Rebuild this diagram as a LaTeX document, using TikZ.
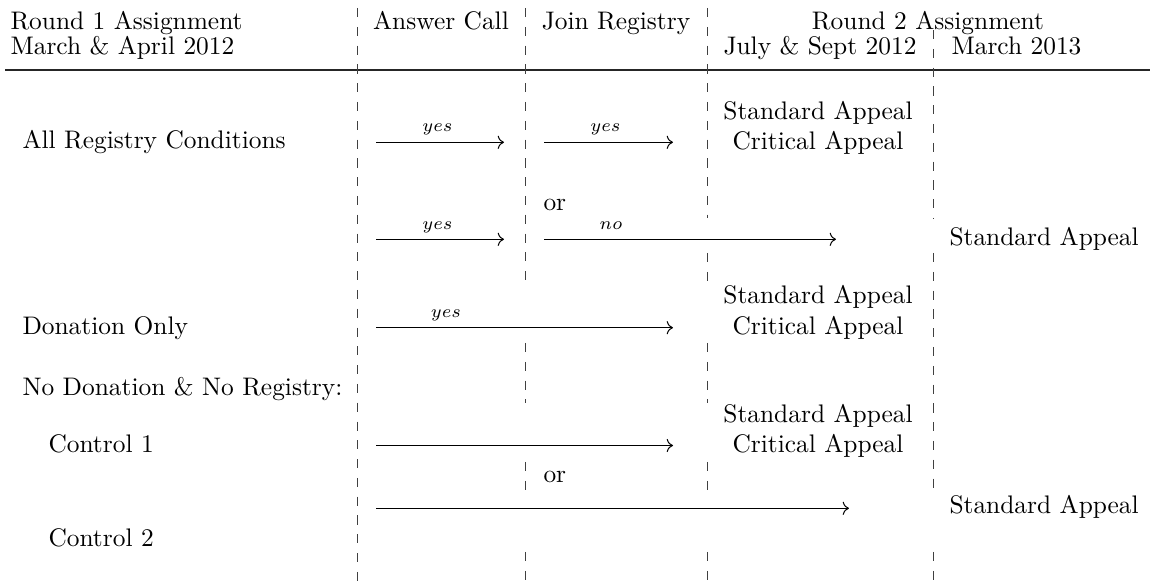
\documentclass[tikz,border=0pt]{standalone}
\usetikzlibrary{arrows.meta}
\begin{document}
\begin{tikzpicture}[x=0.3937pt,y=-0.3937pt,
  txt/.style={inner sep=0pt,anchor=base},
  txtl/.style={inner sep=0pt,anchor=base west},
  lbl/.style={inner sep=0pt,anchor=base,font=\scriptsize},
  vrule/.style={line width=0.35pt,black!75,dash pattern=on 3.6pt off 3.8pt},
  hrule/.style={line width=0.5pt,black!85},
  flow/.style={line width=0.4pt,-{Computer Modern Rightarrow}}]
\useasboundingbox (0,0) rectangle (1150,583);

% ---- header ----
\node[txtl] (h1) at (10,29.5) {Round 1 Assignment};
\node[txtl] (h1b) at (10,55) {March \& April 2012};
\node[txt] (h2) at (441,29.5) {Answer Call};
\node[txt] (h3) at (616,29.5) {Join Registry};
\node[txt] (h4) at (928,29.5) {Round 2 Assignment};
\node[txt] (h4a) at (820,55) {July \& Sept 2012};
\node[txtl] (h4b) at (951,55) {March 2013};
\draw[hrule] (5,70) -- (1150,70);

% ---- column separators ----
\draw[vrule] (357,8) -- (357,583);
\draw[vrule] (525,8) -- (525,283);
\draw[vrule] (525,343) -- (525,403);
\draw[vrule] (525,462) -- (525,497);
\draw[vrule] (525,552) -- (525,583);
\draw[vrule] (707,8) -- (707,218);
\draw[vrule] (707,253) -- (707,285);
\draw[vrule] (707,343) -- (707,403);
\draw[vrule] (707,462) -- (707,497);
\draw[vrule] (707,552) -- (707,583);
\draw[vrule] (933,30) -- (933,218);
\draw[vrule] (933,253) -- (933,490);
\draw[vrule] (933,552) -- (933,583);

% ---- row labels ----
\node[txtl] (all) at (22,149) {All Registry Conditions};
\node[txtl] (don) at (22,335) {Donation Only};
\node[txtl] (none) at (22,396) {No Donation \& No Registry:};
\node[txtl] (c1) at (48,453) {Control 1};
\node[txtl] (c2) at (48,547) {Control 2};

% ---- outcomes ----
\node[txt] (sa1) at (818,119.5) {Standard Appeal};
\node[txt] (ca1) at (818,150) {Critical Appeal};
\node[txt] (sa2) at (818,304) {Standard Appeal};
\node[txt] (ca2) at (818,335) {Critical Appeal};
\node[txt] (sa3) at (818,423) {Standard Appeal};
\node[txt] (ca3) at (818,453) {Critical Appeal};
\node[txtl] (sr1) at (949,246) {Standard Appeal};
\node[txtl] (sr2) at (949,514) {Standard Appeal};
\node[txtl] (or1) at (543,211) {or};
\node[txtl] (or2) at (543,483) {or};

% ---- arrow end points ----
\coordinate (a1s) at (376,142.3); \coordinate (a1e) at (504,142.3);
\coordinate (b1s) at (544,142.3); \coordinate (b1e) at (673,142.3);
\coordinate (a2s) at (376,239.3); \coordinate (a2e) at (504,239.3);
\coordinate (b2s) at (544,239.3); \coordinate (b2e) at (836,239.3);
\coordinate (ds)  at (376,327.7); \coordinate (de)  at (673,327.7);
\coordinate (k1s) at (376,445.5); \coordinate (k1e) at (673,445.5);
\coordinate (k2s) at (376,508.3); \coordinate (k2e) at (849,508.3);

\draw[flow] (a1s) -- (a1e);
\draw[flow] (b1s) -- (b1e);
\draw[flow] (a2s) -- (a2e);
\draw[flow] (b2s) -- (b2e);
\draw[flow] (ds) -- (de);
\draw[flow] (k1s) -- (k1e);
\draw[flow] (k2s) -- (k2e);

\node[lbl] (y1) at (437.5,132) {$yes$};
\node[lbl] (y2) at (605.5,132) {$yes$};
\node[lbl] (y3) at (437.5,229.5) {$yes$};
\node[lbl] (n1) at (611,229.5) {$no$};
\node[lbl] (y4) at (446,318) {$yes$};
\end{tikzpicture}
\end{document}
